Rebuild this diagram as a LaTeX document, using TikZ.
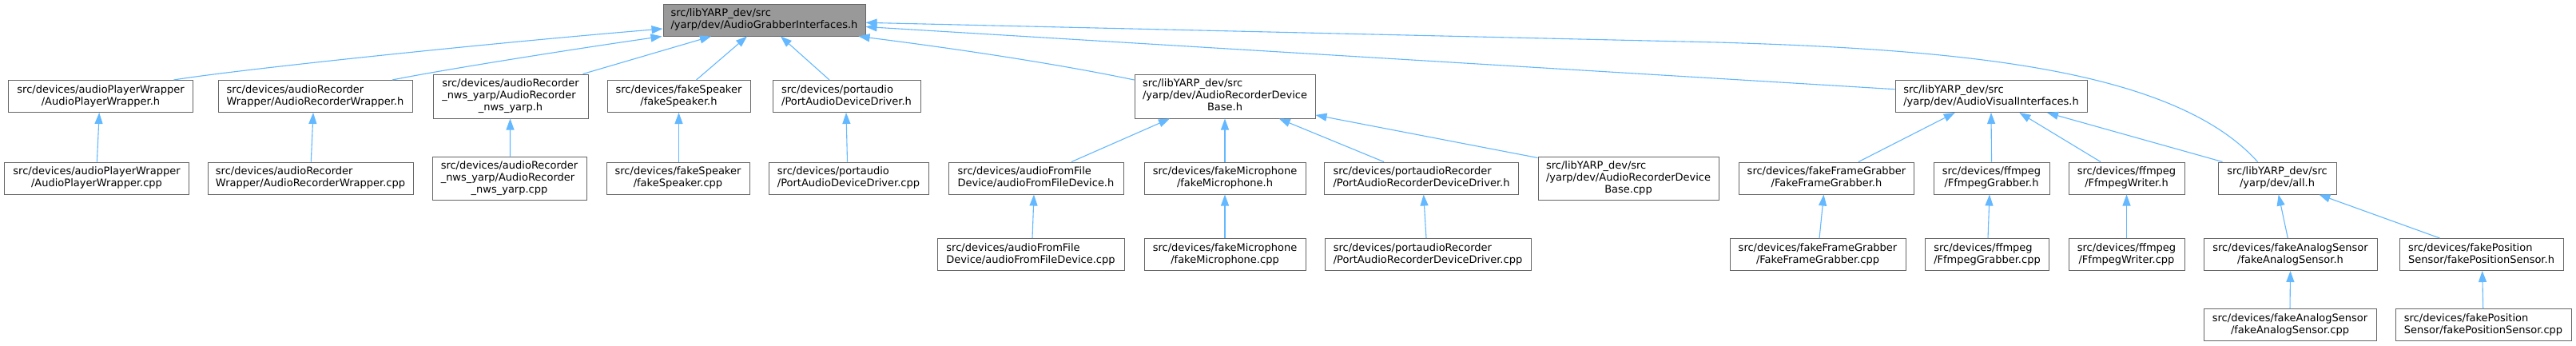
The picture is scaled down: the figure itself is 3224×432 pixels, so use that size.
\documentclass[tikz,border=0pt]{standalone}
\usepackage{fontspec}
\setmainfont{DejaVu Sans}
\usetikzlibrary{arrows.meta}
\definecolor{edgeblue}{HTML}{63B8FF}
\definecolor{boxgray}{HTML}{666666}
\definecolor{mainfill}{HTML}{999999}
\newcommand{\lblB}[2]{\begin{tabular}{@{}l@{}}#1\\\multicolumn{1}{@{}c@{}}{#2}\end{tabular}}
\newcommand{\lblC}[3]{\begin{tabular}{@{}l@{}}#1\\#2\\\multicolumn{1}{@{}c@{}}{#3}\end{tabular}}
\tikzset{
  bx/.style n args={2}{draw=boxgray, line width=1bp, fill=white, inner sep=0pt,
    minimum width=#1bp, minimum height=#2bp, font=\fontsize{13.05}{15.06}\selectfont},
  mainbx/.style={fill=mainfill},
  edge/.style={draw=edgeblue, line width=1.1bp, -{Triangle[length=14bp,width=10bp]}},
}
\begin{document}
\begin{tikzpicture}[x=1bp,y=-1bp]
\fill[white] (0,0) rectangle (3224,432);
\useasboundingbox (0,0) rectangle (3224,432);
% row 1
\node[bx={253}{40}, mainbx] (agi) at (956.5,25) {\lblB{src/libYARP\_dev/src}{/yarp/dev/AudioGrabberInterfaces.h}};
% row 2
\node[bx={231}{40}] (apwh) at (126,120.5) {\lblB{src/devices/audioPlayerWrapper}{/AudioPlayerWrapper.h}};
\node[bx={243}{40}] (arwh) at (394.5,120.5) {\lblB{src/devices/audioRecorder}{Wrapper/AudioRecorderWrapper.h}};
\node[bx={194}{55}] (nwsh) at (639,120.5) {\lblC{src/devices/audioRecorder}{\_nws\_yarp/AudioRecorder}{\_nws\_yarp.h}};
\node[bx={179}{40}] (fsh) at (849.5,120.5) {\lblB{src/devices/fakeSpeaker}{/fakeSpeaker.h}};
\node[bx={185}{40}] (paddh) at (1059.5,120.5) {\lblB{src/devices/portaudio}{/PortAudioDeviceDriver.h}};
\node[bx={226}{55}] (ardbh) at (1533,120.5) {\lblC{src/libYARP\_dev/src}{/yarp/dev/AudioRecorderDevice}{Base.h}};
\node[bx={240}{40}] (avih) at (2492,120.5) {\lblB{src/libYARP\_dev/src}{/yarp/dev/AudioVisualInterfaces.h}};
% row 3
\node[bx={230}{40}] (apwc) at (121,223) {\lblB{src/devices/audioPlayerWrapper}{/AudioPlayerWrapper.cpp}};
\node[bx={257}{40}] (arwc) at (388.5,223) {\lblB{src/devices/audioRecorder}{Wrapper/AudioRecorderWrapper.cpp}};
\node[bx={193}{54}] (nwsc) at (637.5,223) {\lblC{src/devices/audioRecorder}{\_nws\_yarp/AudioRecorder}{\_nws\_yarp.cpp}};
\node[bx={179}{40}] (fsc) at (848.5,223) {\lblB{src/devices/fakeSpeaker}{/fakeSpeaker.cpp}};
\node[bx={200}{40}] (paddc) at (1062,223) {\lblB{src/devices/portaudio}{/PortAudioDeviceDriver.cpp}};
\node[bx={219}{40}] (affh) at (1296.5,223) {\lblB{src/devices/audioFromFile}{Device/audioFromFileDevice.h}};
\node[bx={202}{40}] (fmh) at (1533,223) {\lblB{src/devices/fakeMicrophone}{/fakeMicrophone.h}};
\node[bx={243}{40}] (pardh) at (1779,223) {\lblB{src/devices/portaudioRecorder}{/PortAudioRecorderDeviceDriver.h}};
\node[bx={226}{54}] (ardbc) at (2038,223) {\lblC{src/libYARP\_dev/src}{/yarp/dev/AudioRecorderDevice}{Base.cpp}};
\node[bx={219}{40}] (ffgh) at (2286,223) {\lblB{src/devices/fakeFrameGrabber}{/FakeFrameGrabber.h}};
\node[bx={145}{40}] (fgh) at (2492.5,223) {\lblB{src/devices/ffmpeg}{/FfmpegGrabber.h}};
\node[bx={145}{40}] (fwh) at (2661.5,223) {\lblB{src/devices/ffmpeg}{/FfmpegWriter.h}};
\node[bx={148}{40}] (allh) at (2850,223) {\lblB{src/libYARP\_dev/src}{/yarp/dev/all.h}};
% row 4
\node[bx={234}{40}] (affc) at (1290,318.7) {\lblB{src/devices/audioFromFile}{Device/audioFromFileDevice.cpp}};
\node[bx={202}{40}] (fmc) at (1533,318.7) {\lblB{src/devices/fakeMicrophone}{/fakeMicrophone.cpp}};
\node[bx={258}{40}] (pardc) at (1787,318.7) {\lblB{src/devices/portaudioRecorder}{/PortAudioRecorderDeviceDriver.cpp}};
\node[bx={220}{40}] (ffgc) at (2275,318.7) {\lblB{src/devices/fakeFrameGrabber}{/FakeFrameGrabber.cpp}};
\node[bx={155}{40}] (fgc) at (2487,318.7) {\lblB{src/devices/ffmpeg}{/FfmpegGrabber.cpp}};
\node[bx={145}{40}] (fwc) at (2661.5,318.7) {\lblB{src/devices/ffmpeg}{/FfmpegWriter.cpp}};
\node[bx={217}{40}] (fash) at (2866.5,318.5) {\lblB{src/devices/fakeAnalogSensor}{/fakeAnalogSensor.h}};
\node[bx={205}{40}] (fpsh) at (3105.5,318.5) {\lblB{src/devices/fakePosition}{Sensor/fakePositionSensor.h}};
% row 5
\node[bx={216}{40}] (fasc) at (2866,406.8) {\lblB{src/devices/fakeAnalogSensor}{/fakeAnalogSensor.cpp}};
\node[bx={220}{40}] (fpsc) at (3108,406.8) {\lblB{src/devices/fakePosition}{Sensor/fakePositionSensor.cpp}};
% edges to AudioGrabberInterfaces.h
\draw[edge] ([xshift=91.5bp]apwh.north) .. controls (290,88) and (600,55) .. ([yshift=-11bp]agi.west);
\draw[edge] ([xshift=96.5bp]arwh.north) .. controls (545,89) and (700,64) .. ([xshift=-1bp]agi.south west);
\draw[edge] ([xshift=90.6bp]nwsh.north) -- ([xshift=-66.5bp]agi.south);
\draw[edge] ([xshift=22bp]fsh.north) -- ([xshift=-21.5bp]agi.south);
\draw[edge] ([xshift=-21.5bp]paddh.north) -- ([xshift=20.5bp]agi.south);
\draw[edge] ([yshift=20.5bp]ardbh.west) .. controls (1300,75) and (1150,55) .. ([xshift=-9bp]agi.south east);
\draw[edge] ([yshift=8.8bp]avih.west) -- ([yshift=-8.5bp]agi.east);
\draw[edge] ([xshift=-24.5bp]allh.north) .. controls (2720,85) and (2450,62) .. (2150,53) -- ([yshift=-3.3bp]agi.east);
% row 3 -> row 2
\draw[edge] ([xshift=0.4bp]apwc.north) -- ([xshift=-1.8bp]apwh.south);
\draw[edge] ([xshift=0.8bp]arwc.north) -- ([xshift=-2.5bp]arwh.south);
\draw[edge] ([xshift=1bp]nwsc.north) -- ([xshift=-0.5bp]nwsh.south);
\draw[edge] ([xshift=1bp]fsc.north) -- (fsh.south);
\draw[edge] ([xshift=-1.5bp]paddc.north) -- ([xshift=-0.5bp]paddh.south);
\draw[edge] ([xshift=44.5bp]affh.north) -- ([xshift=-69bp]ardbh.south);
\draw[edge] (fmh.north) -- (ardbh.south);
\draw[edge] ([xshift=-47bp]pardh.north) -- ([xshift=67.7bp]ardbh.south);
\draw[edge] ([yshift=-2bp]ardbc.north west) -- ([yshift=-23.5bp]ardbh.east);
\draw[edge] ([xshift=40bp]ffgh.north) -- ([xshift=-45.3bp]avih.south);
\draw[edge] (fgh.north) -- (avih.south);
\draw[edge] ([xshift=-32.5bp]fwh.north) -- ([xshift=35.4bp]avih.south);
\draw[edge] ([xshift=6bp]allh.north west) -- ([xshift=70bp]avih.south);
% row 4 -> row 3
\draw[edge] ([xshift=2bp]affc.north) -- ([xshift=-2.5bp]affh.south);
\draw[edge] (fmc.north) -- (fmh.south);
\draw[edge] ([xshift=-2bp]pardc.north) -- ([xshift=2.7bp]pardh.south);
\draw[edge] ([xshift=2bp]ffgc.north) -- ([xshift=-3.5bp]ffgh.south);
\draw[edge] ([xshift=1bp]fgc.north) -- ([xshift=-2.5bp]fgh.south);
\draw[edge] (fwc.north) -- (fwh.south);
\draw[edge] ([xshift=-3.2bp]fash.north) -- ([xshift=1.7bp]allh.south);
\draw[edge] ([xshift=-52bp]fpsh.north) -- ([xshift=52.3bp]allh.south);
% row 5 -> row 4
\draw[edge] (fasc.north) -- (fash.south);
\draw[edge] ([xshift=-0.3bp]fpsc.north) -- ([xshift=1.2bp]fpsh.south);
\end{tikzpicture}
\end{document}
